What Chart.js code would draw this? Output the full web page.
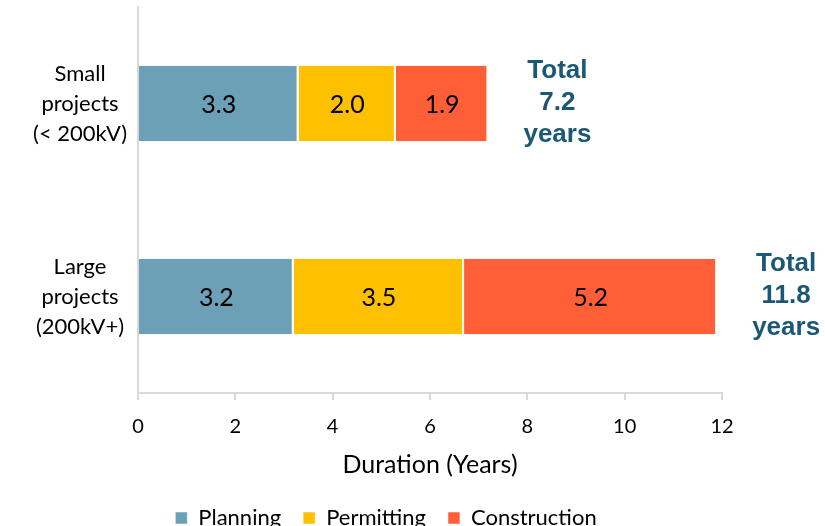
<!DOCTYPE html>
<html>
<head>
<meta charset="utf-8">
<script src="https://cdn.jsdelivr.net/npm/chart.js@4.4.1/dist/chart.umd.min.js"></script>
<style>
  html, body { margin: 0; padding: 0; background: #fff; overflow: hidden; }
  #wrap { width: 825px; height: 534px; position: relative; }
</style>
</head>
<body>
<div id="wrap"><canvas id="durationChart"></canvas></div>
<script>
var categories   = [['Small', 'projects', '(< 200kV)'], ['Large', 'projects', '(200kV+)']];
var planning     = [3.3, 3.2];
var permitting   = [2.0, 3.5];
var construction = [1.9, 5.2];
var totals       = [7.2, 11.8];
var xMax = 12, xStep = 2;

var axisColor = '#d9d9d9';
var textFont  = 'Lato, "Open Sans", sans-serif';

// value labels inside each segment, plus the "Total" note at the end of each bar
var barLabels = {
    id: 'barLabels',
    afterLayout: function (chart) {
        // nudge the legend a little right and down
        var lg = chart.legend;
        lg.left += 25; lg.right += 25;
        lg.top += 5; lg.bottom += 5;
    },
    afterDatasetsDraw: function (chart) {
        var ctx = chart.ctx;
        ctx.save();
        ctx.textAlign = 'center';
        ctx.textBaseline = 'middle';
        ctx.fillStyle = '#000';
        ctx.font = '25px ' + textFont;
        chart.data.datasets.forEach(function (ds, di) {
            chart.getDatasetMeta(di).data.forEach(function (bar, i) {
                ctx.fillText(ds.data[i].toFixed(1), (bar.x + bar.base) / 2, bar.y + 1);
            });
        });

        var last = chart.getDatasetMeta(chart.data.datasets.length - 1).data;
        ctx.fillStyle = '#1a5876';
        ctx.font = 'bold 26px "Liberation Sans", Arial, sans-serif';
        last.forEach(function (bar, i) {
            var x = bar.x + 69;
            var lines = ['Total', totals[i].toFixed(1), 'years'];
            lines.forEach(function (t, k) {
                ctx.fillText(t, x, bar.y - 33 + k * 32);
            });
        });
        ctx.restore();
    }
};

new Chart(document.getElementById('durationChart'), {
    type: 'bar',
    data: {
        labels: categories,
        datasets: [
            { label: 'Planning',     data: planning,     backgroundColor: '#6ca0b6' },
            { label: 'Permitting',   data: permitting,   backgroundColor: '#ffc000' },
            { label: 'Construction', data: construction, backgroundColor: '#ff5f37' }
        ]
    },
    plugins: [barLabels],
    options: {
        indexAxis: 'y',
        responsive: true,
        maintainAspectRatio: false,
        animation: false,
        layout: { padding: { top: 7, right: 103, left: 0, bottom: 0 } },
        datasets: {
            bar: {
                categoryPercentage: 1,
                barPercentage: 0.39,
                borderColor: '#ffffff',
                borderWidth: { top: 0, bottom: 0, left: 0, right: 2 },
                borderSkipped: false
            }
        },
        plugins: {
            legend: {
                position: 'bottom',
                labels: {
                    boxWidth: 12,
                    boxHeight: 12,
                    padding: 22,
                    color: '#000',
                    font: { family: textFont, size: 22 }
                }
            },
            tooltip: { enabled: false }
        },
        scales: {
            x: {
                stacked: true,
                min: 0,
                max: xMax,
                ticks: {
                    stepSize: xStep,
                    color: '#000',
                    padding: 15,
                    font: { family: textFont, size: 20 }
                },
                grid: {
                    display: true,
                    drawOnChartArea: false,
                    drawTicks: true,
                    tickLength: 7,
                    color: axisColor,
                    lineWidth: 2
                },
                border: { color: axisColor, width: 2 },
                title: {
                    display: true,
                    text: 'Duration (Years)',
                    color: '#000',
                    padding: 0,
                    font: { family: textFont, size: 25 }
                },
                afterFit: function (scale) { scale.height = 87; }
            },
            y: {
                stacked: true,
                ticks: {
                    color: '#000',
                    padding: 11,
                    crossAlign: 'center',
                    font: { family: textFont, size: 22, lineHeight: 1.36 }
                },
                grid: { display: false, drawTicks: false },
                border: { color: axisColor, width: 2 },
                afterFit: function (scale) {
                    scale.width = 138;
                    scale.paddingTop = 0;
                    scale.paddingBottom = 0;
                }
            }
        }
    }
});
</script>
</body>
</html>
